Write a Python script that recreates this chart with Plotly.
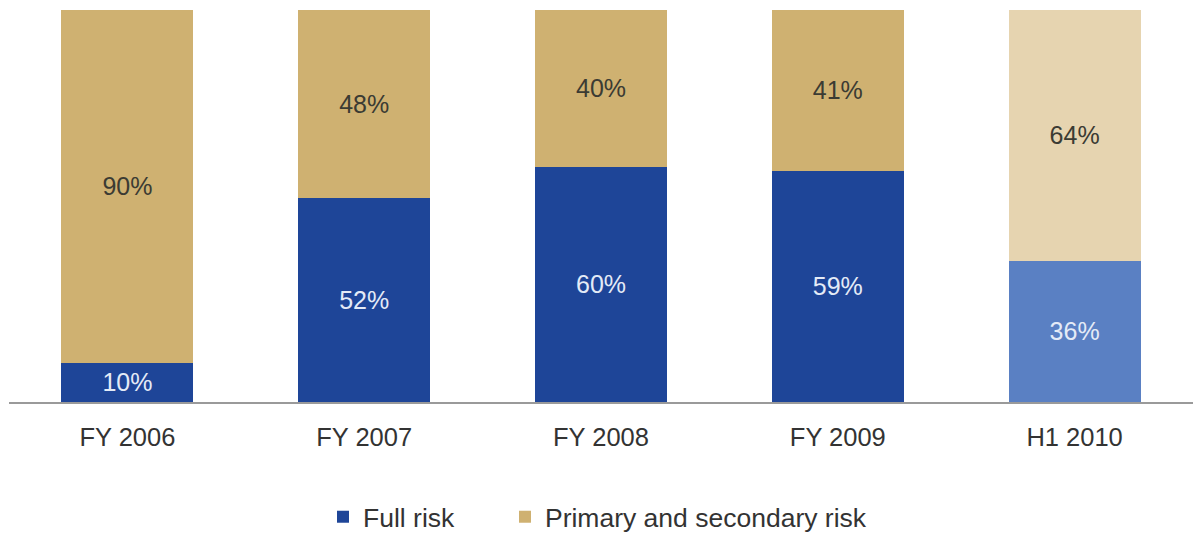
import plotly.graph_objects as go

categories = ["FY 2006", "FY 2007", "FY 2008", "FY 2009", "H1 2010"]
full_risk = [10, 52, 60, 59, 36]
primary_secondary = [90, 48, 40, 41, 64]

# H1 2010 is a half-year figure, drawn in lighter shades
full_colors = ["#1e4598", "#1e4598", "#1e4598", "#1e4598", "#5a80c3"]
prim_colors = ["#cfb171", "#cfb171", "#cfb171", "#cfb171", "#e6d4b0"]
full_text_colors = ["#e4ebf7"] * 5
prim_text_colors = ["#3b3b33"] * 5

FONT = "Liberation Sans, Arial"

fig = go.Figure()
fig.add_trace(go.Bar(
    x=categories, y=full_risk, name="Full risk", legend="legend2",
    marker=dict(color=full_colors, line=dict(width=0)),
    texttemplate="%{y}%", textposition="inside", insidetextanchor="middle",
    textfont=dict(color=full_text_colors, size=25, family=FONT),
    textangle=0,
))
fig.add_trace(go.Bar(
    x=categories, y=primary_secondary, name="Primary and secondary risk", legend="legend3",
    marker=dict(color=prim_colors, line=dict(width=0)),
    texttemplate="%{y}%", textposition="inside", insidetextanchor="middle",
    textfont=dict(color=prim_text_colors, size=25, family=FONT),
    textangle=0,
))

# one single-entry legend per series so each entry can be placed on its own
legend_common = dict(
    orientation="h", xanchor="left",
    yref="container", y=0.030, yanchor="middle",
    font=dict(size=26.5, color="#333333"),
    itemwidth=30,
)

fig.update_layout(
    barmode="stack",
    bargap=0.443,
    width=1194, height=533,
    margin=dict(l=9, r=1, t=10, b=131, autoexpand=False),
    paper_bgcolor="white", plot_bgcolor="white",
    font=dict(family=FONT, color="#333333", size=25),
    legend2=dict(x=0.2652, **legend_common),
    legend3=dict(x=0.4189, **legend_common),
    xaxis=dict(
        showline=True, linecolor="#9a9a9a", linewidth=2,
        ticks="", showgrid=False, tickfont=dict(size=25.5, color="#333333"),
        ticklabelstandoff=11, automargin=False,
    ),
    yaxis=dict(range=[0, 100], visible=False, showgrid=False),
)

fig.write_html("out.html")
